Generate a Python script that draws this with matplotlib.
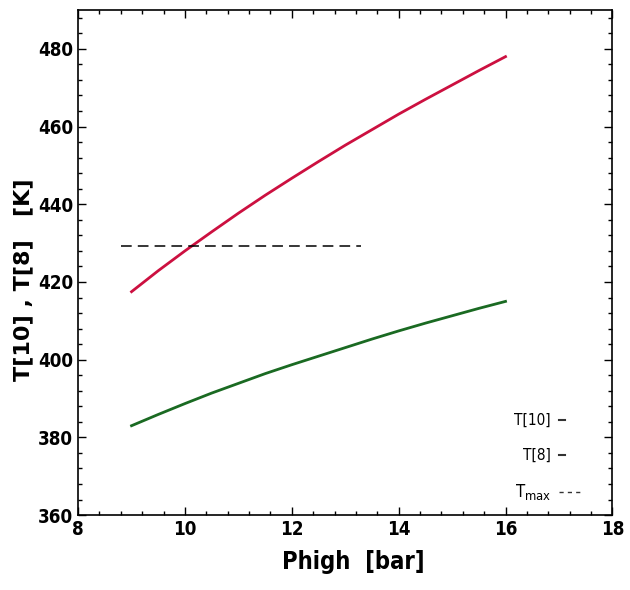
import numpy as np
import matplotlib.pyplot as plt
from matplotlib.ticker import MultipleLocator

# values
phigh = [9.0, 9.5, 10.0, 10.5, 11.0, 11.5, 12.0, 12.5, 13.0, 13.5, 14.0, 14.5, 15.0, 15.5, 16.0]
t10 = [417.5, 422.9, 428.0, 432.9, 437.7, 442.3, 446.7, 451.0, 455.2, 459.2, 463.2, 467.0, 470.7, 474.4, 478.0]
t8 = [383.0, 385.9, 388.7, 391.4, 393.9, 396.4, 398.7, 400.9, 403.1, 405.3, 407.4, 409.4, 411.3, 413.2, 415.0]
tmax_x = [8.8, 13.3]
tmax = 429.3

narrow = ['DejaVu Sans']

fig = plt.figure(figsize=(6.3, 5.9), dpi=100)
ax = fig.add_axes([0.124, 0.127, 0.848, 0.856])

ax.plot(phigh, t10, color='#cc1040', lw=2)
ax.plot(phigh, t8, color='#1a6a22', lw=2)
ax.plot(tmax_x, [tmax, tmax], color='black', lw=1.1, ls=(0, (7, 4)))

ax.set_xlim(8, 18)
ax.set_ylim(360, 490)
ax.xaxis.set_major_locator(MultipleLocator(2))
ax.xaxis.set_minor_locator(MultipleLocator(0.4))
ax.yaxis.set_major_locator(MultipleLocator(20))
ax.yaxis.set_minor_locator(MultipleLocator(4))
ax.tick_params(which='both', direction='in', top=True, right=True, width=1)
ax.tick_params(which='major', length=6)
ax.tick_params(which='minor', length=3)
for lab in ax.get_xticklabels() + ax.get_yticklabels():
    lab.set_family(narrow)
    lab.set_stretch('condensed')
    lab.set_fontweight('bold')
    lab.set_fontsize(13.5)
for s in ax.spines.values():
    s.set_linewidth(1.2)

ax.set_xlabel('Phigh  [bar]', family=narrow, stretch='condensed', fontweight='bold', fontsize=17)
ax.xaxis.set_label_coords(0.515, -0.07)
ax.set_ylabel('T[10] , T[8]   [K]', family='DejaVu Sans', fontweight='bold', fontsize=16)
ax.yaxis.set_label_coords(-0.083, 0.465)

# legend as in the original: text with short samples at the right
ax.text(16.85, 384.5, 'T[10]', family=narrow, stretch='condensed', fontsize=11, ha='right', va='center')
ax.text(16.85, 375.5, 'T[8]', family=narrow, stretch='condensed', fontsize=11, ha='right', va='center')
ax.text(16.85, 366.0, r'T$_{\mathrm{max}}$', family=narrow, stretch='condensed', fontsize=12, ha='right', va='center')
ax.plot([17.0, 17.12], [384.5, 384.5], color='#333333', lw=1.5)
ax.plot([17.0, 17.12], [375.5, 375.5], color='#333333', lw=1.5)
ax.plot([17.0, 17.45], [366.0, 366.0], color='#333333', lw=1, ls=(0, (3, 3)))

fig.savefig('out.png', dpi=100)
